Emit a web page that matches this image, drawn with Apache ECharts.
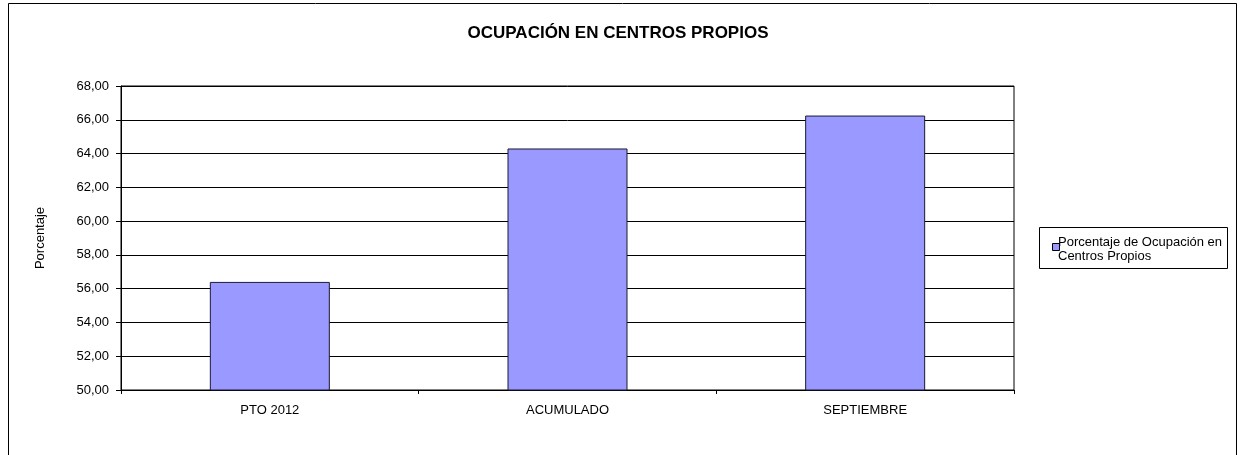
<!DOCTYPE html>
<html>
<head>
<meta charset="utf-8">
<script src="https://cdn.jsdelivr.net/npm/echarts@6/dist/echarts.min.js"></script>
<style>
	html,body{margin:0;padding:0;background:#fff;}
	#chart{width:1240px;height:455px;}
</style>
</head>
<body>
<div id="chart"></div>
<script>
	// datos
	var categorias = ["PTO 2012", "ACUMULADO", "SEPTIEMBRE"];
	var ocupacion = [56.4, 64.3, 66.25];
	var nombreSerie = "Porcentaje de Ocupación en Centros Propios";

	var myChart = echarts.init(document.getElementById("chart"));
	var fuente = "Liberation Sans, Arial, sans-serif";
	var option = {
		backgroundColor: "#fff",
		animation: false,
		textStyle: { fontFamily: fuente },
		title: {
			text: "OCUPACIÓN EN CENTROS PROPIOS",
			left: 613,
			top: 20,
			textAlign: "center",
			textStyle: { fontSize: 17, fontWeight: "bold", color: "#000", fontFamily: fuente }
		},
		graphic: [{
			type: "rect",
			shape: { x: 8.5, y: 3.5, width: 1228, height: 470 },
			style: { fill: "none", stroke: "#000", lineWidth: 1 },
			silent: true
		}, {
			// recuadro de la leyenda
			type: "rect",
			shape: { x: 1039.5, y: 227.5, width: 188, height: 41 },
			style: { fill: "#fff", stroke: "#000", lineWidth: 1 },
			z: 0
		}, {
			type: "text",
			left: 1058,
			top: 235,
			style: {
				text: "Porcentaje de Ocupación en\nCentros Propios",
				font: "13px " + fuente,
				fill: "#000",
				lineHeight: 14
			},
			z: 10
		}],
		legend: {
			show: true,
			left: 1047,
			top: 238,
			itemWidth: 7,
			itemHeight: 7,
			icon: "rect",
			formatter: function () { return ""; },
			itemStyle: { borderColor: "#000", borderWidth: 1 },
			data: [nombreSerie]
		},
		grid: {
			left: 121,
			right: 226,
			top: 86,
			bottom: 65,
			show: true,
			borderColor: "#000",
			borderWidth: 1
		},
		xAxis: {
			type: "category",
			data: categorias,
			axisLine: { lineStyle: { color: "#000", width: 1 } },
			axisTick: { show: true, length: 4, lineStyle: { color: "#000" } },
			axisLabel: { color: "#000", fontSize: 13, margin: 14, fontFamily: fuente }
		},
		yAxis: {
			type: "value",
			min: 50,
			max: 68,
			interval: 2,
			name: "Porcentaje",
			nameLocation: "middle",
			nameGap: 74,
			nameTextStyle: { color: "#000", fontSize: 13, fontFamily: fuente },
			axisLine: { show: true, lineStyle: { color: "#000", width: 1 } },
			axisTick: { show: true, length: 5, lineStyle: { color: "#000" } },
			axisLabel: {
				color: "#000",
				fontSize: 13,
				margin: 12,
				fontFamily: fuente,
				formatter: function (v) { return v.toFixed(2).replace(".", ","); }
			},
			splitLine: { show: true, lineStyle: { color: "#000", width: 1 } }
		},
		series: [{
			name: nombreSerie,
			type: "bar",
			data: ocupacion,
			barWidth: 120,
			itemStyle: { color: "#9999ff", borderColor: "#1a1a33", borderWidth: 1 }
		}]
	};
	myChart.setOption(option);
</script>
</body>
</html>
